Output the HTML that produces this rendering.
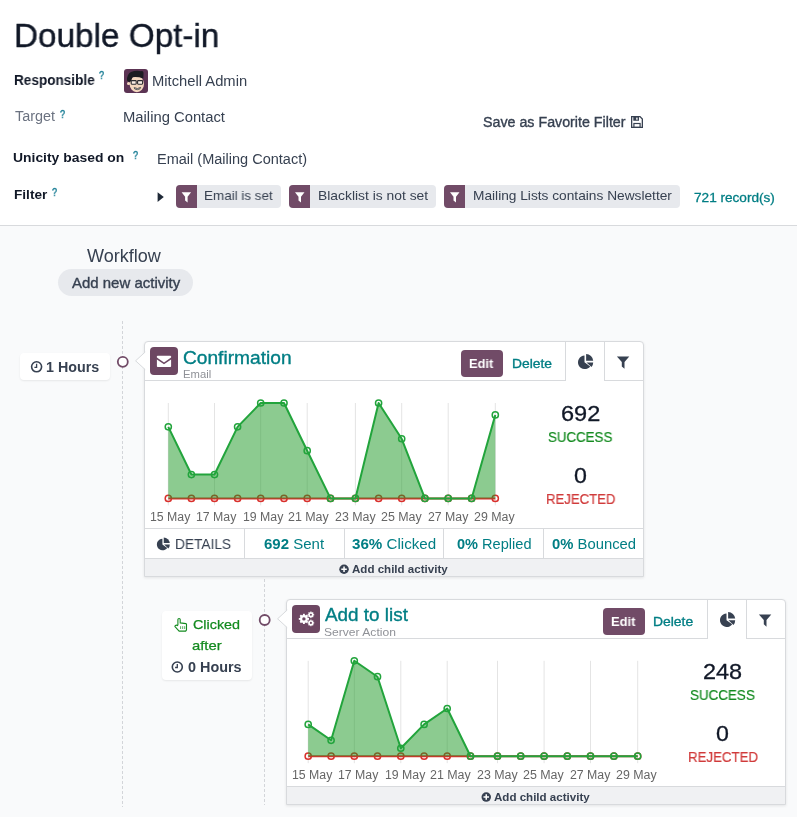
<!DOCTYPE html>
<html><head><meta charset="utf-8">
<style>
*{box-sizing:border-box;margin:0;padding:0}
html,body{width:797px;height:817px;overflow:hidden;background:#f9fafb;font-family:"Liberation Sans",sans-serif;color:#374151}
.b{position:absolute}
.t{position:absolute;white-space:nowrap;will-change:transform}
.t b{font-weight:bold}
#top{position:absolute;left:0;top:0;width:797px;height:226px;background:#fff;border-bottom:1px solid #d8dadd}
.tag{position:absolute;top:185px;height:23px;background:#e7e9ed;border-radius:4px;overflow:hidden}
.tag i{position:absolute;left:0;top:0;width:21px;height:23px;background:#714b67}
.card{position:absolute;background:#fff;border:1px solid #d8dadd;border-radius:4px 4px 0 0;box-shadow:0 1px 3px rgba(0,0,0,0.09)}
.ibox{position:absolute;width:28px;height:28px;border-radius:4px;background:#6d4762}
.btn{position:absolute;width:42px;height:27px;border-radius:4px;background:#714b67}
.tab{position:absolute;border-left:1px solid #d8dadd}
.foot{position:absolute;background:#f0f1f3;border-top:1px solid #d8dadd}
.tbox{position:absolute;background:#fff;border-radius:4px;box-shadow:0 1px 2px rgba(0,0,0,0.08)}
</style></head><body>
<div id="top"></div>
<!-- avatar -->
<svg class="b" style="left:124px;top:69px" width="24" height="24" viewBox="0 0 24 24">
  <rect x="0" y="0" width="24" height="24" rx="3" fill="#5c3454"/>
  <ellipse cx="12.8" cy="15" rx="7.2" ry="8.3" fill="#f4d8c0"/>
  <circle cx="4.6" cy="14.5" r="1.6" fill="#f4d8c0"/>
  <path d="M3 11.5 Q2.8 5 7 3 Q12 1 17 2.2 Q19.8 1.5 19.5 5 L19.3 9.5 Q14 7.6 8.5 8.2 L6.8 12.5 L5 13 Z" fill="#1c1c22"/>
  <rect x="7.2" y="11.6" width="5" height="3.6" rx="0.6" fill="#fff" fill-opacity="0.6" stroke="#2b2b30" stroke-width="1.1"/>
  <rect x="13.6" y="11.6" width="5" height="3.6" rx="0.6" fill="#fff" fill-opacity="0.6" stroke="#2b2b30" stroke-width="1.1"/>
  <path d="M10.2 18.6 Q13.4 20.6 16.6 18.4 L16 19.8 Q13.4 21.4 10.8 20 Z" fill="#fff" stroke="#333" stroke-width="0.8"/>
</svg>
<!-- floppy -->
<svg class="b" style="left:631px;top:116px" width="12" height="12" viewBox="0 0 12 12">
  <path d="M0.65 0.65 H9 L11.35 3 V11.35 H0.65Z" fill="none" stroke="#374151" stroke-width="1.3"/>
  <path d="M2.3 0.6 H8 V4.7 H2.3Z M5.2 1.5 V3.8 H6.6 V1.5Z" fill="#374151" fill-rule="evenodd"/>
  <rect x="2.9" y="7.5" width="6.2" height="3.9" fill="none" stroke="#374151" stroke-width="1.2"/>
</svg>
<!-- caret -->
<svg class="b" style="left:157px;top:191px" width="8" height="12" viewBox="0 0 8 12"><path d="M0.6 1.2 L6.8 6 L0.6 11Z" fill="#1f2937"/></svg>
<div class="tag" style="left:176px;width:105px"><i></i></div>
<div class="tag" style="left:289px;width:147px"><i></i></div>
<div class="tag" style="left:444px;width:236px"><i></i></div>
<svg class="b" style="left:0;top:0" width="797" height="230">
  <defs><path id="fun" d="M0 0 H9.5 L6 4.6 V10.2 L3.5 8.4 V4.6Z" fill="#fff"/></defs>
  <use href="#fun" x="181.6" y="192.2"/>
  <use href="#fun" x="295" y="192.2"/>
  <use href="#fun" x="450" y="192.2"/>
</svg>
<!-- workflow pill -->
<div class="b" style="left:58px;top:269px;width:135px;height:27px;border-radius:14px;background:#e7e9ed"></div>
<!-- dashed lines + circles -->
<svg class="b" style="left:0;top:0" width="797" height="817">
  <line x1="122.5" y1="321" x2="122.5" y2="807" stroke="#d3d5d9" stroke-width="1" stroke-dasharray="3 2"/>
  <line x1="264.5" y1="579" x2="264.5" y2="805" stroke="#d3d5d9" stroke-width="1" stroke-dasharray="3 2"/>
</svg>
<div class="tbox" style="left:20px;top:353px;width:90px;height:27px"></div>
<div class="tbox" style="left:162px;top:611px;width:90px;height:69px"></div>
<svg class="b" style="left:0;top:0" width="797" height="817">
  <circle cx="122.8" cy="361.8" r="5" fill="#fff" stroke="#714b67" stroke-width="1.8"/>
  <circle cx="264.7" cy="620.0" r="5" fill="#fff" stroke="#714b67" stroke-width="1.8"/>
</svg>
<!-- card 1 -->
<div class="card" style="left:144px;top:341px;width:500px;height:236px"></div>
<div class="card" style="left:286px;top:599px;width:500px;height:206px"></div>
<svg class="b" style="left:0;top:0" width="797" height="817">
  <!-- arrows -->
  <path d="M145.2 352 L135.6 360.8 L145.2 369.6" fill="#fff" stroke="#d8dadd" stroke-width="1"/>
  <path d="M287.2 610 L277.6 618.8 L287.2 627.6" fill="#fff" stroke="#d8dadd" stroke-width="1"/>
  <!-- header bottom lines -->
  <line x1="145" y1="380.5" x2="565.5" y2="380.5" stroke="#d8dadd" stroke-width="1"/>
  <line x1="604.5" y1="380.5" x2="643" y2="380.5" stroke="#d8dadd" stroke-width="1"/>
  <line x1="565.5" y1="341" x2="565.5" y2="381" stroke="#d8dadd" stroke-width="1"/>
  <line x1="604.5" y1="341" x2="604.5" y2="381" stroke="#d8dadd" stroke-width="1"/>
  <line x1="287" y1="638.5" x2="707.5" y2="638.5" stroke="#d8dadd" stroke-width="1"/>
  <line x1="746.5" y1="638.5" x2="785" y2="638.5" stroke="#d8dadd" stroke-width="1"/>
  <line x1="707.5" y1="599" x2="707.5" y2="639" stroke="#d8dadd" stroke-width="1"/>
  <line x1="746.5" y1="599" x2="746.5" y2="639" stroke="#d8dadd" stroke-width="1"/>
  <!-- stats row -->
  <line x1="145" y1="528.5" x2="643" y2="528.5" stroke="#d8dadd" stroke-width="1"/>
  <line x1="244.5" y1="528.5" x2="244.5" y2="558" stroke="#d8dadd" stroke-width="1"/>
  <line x1="344.5" y1="528.5" x2="344.5" y2="558" stroke="#d8dadd" stroke-width="1"/>
  <line x1="443.5" y1="528.5" x2="443.5" y2="558" stroke="#d8dadd" stroke-width="1"/>
  <line x1="543.5" y1="528.5" x2="543.5" y2="558" stroke="#d8dadd" stroke-width="1"/>
</svg>
<div class="foot" style="left:145px;top:558px;width:498px;height:18px;"></div>
<div class="foot" style="left:287px;top:786px;width:498px;height:18px;"></div>
<div class="ibox" style="left:150px;top:347px"></div>
<div class="ibox" style="left:292px;top:605px"></div>
<div class="btn" style="left:461px;top:350px"></div>
<div class="btn" style="left:603px;top:608px"></div>
<svg class="b" style="left:0;top:0" width="797" height="817">
  <defs>
    <g id="pie"><path d="M6.6 1.4 A6.8 6.8 0 1 0 12.3 12.3 L6.6 8.2Z" fill="#374151"/><path d="M8.2 0 A7.2 7.2 0 0 1 15.3 6.6 L8.2 6.6Z" fill="#374151"/><path d="M8.6 8.3 L15.3 8.3 A7 7 0 0 1 13.6 12.9Z" fill="#374151"/></g>
    <path id="funnel" d="M0 0 H12.4 L7.6 5.4 V12.2 L4.9 9.8 V5.4Z" fill="#374151"/>
    <g id="env"><path d="M0 0.8 Q0 0 0.8 0 H13.4 Q14.2 0 14.2 0.8 V1.6 L7.1 6.6 L0 1.6Z" fill="#fff"/><path d="M0 3.6 L7.1 8.4 L14.2 3.6 V10.5 Q14.2 11.3 13.4 11.3 H0.8 Q0 11.3 0 10.5Z" fill="#fff"/></g>
    <g id="gear"><circle r="3.9" fill="#fff"/><g fill="#fff"><rect x="-0.95" y="-5.1" width="1.9" height="10.2"/><rect x="-0.95" y="-5.1" width="1.9" height="10.2" transform="rotate(45)"/><rect x="-0.95" y="-5.1" width="1.9" height="10.2" transform="rotate(90)"/><rect x="-0.95" y="-5.1" width="1.9" height="10.2" transform="rotate(135)"/></g><circle r="1.7" fill="#6d4762"/></g>
    <g id="sgear"><circle r="2.5" fill="#fff"/><g fill="#fff"><rect x="-0.6" y="-3.3" width="1.2" height="6.6"/><rect x="-0.6" y="-3.3" width="1.2" height="6.6" transform="rotate(45)"/><rect x="-0.6" y="-3.3" width="1.2" height="6.6" transform="rotate(90)"/><rect x="-0.6" y="-3.3" width="1.2" height="6.6" transform="rotate(135)"/></g><circle r="1.05" fill="#6d4762"/></g>
    <g id="plus"><circle cx="4.75" cy="4.75" r="4.75" fill="#374151"/><path d="M4 2 H5.5 V4 H7.5 V5.5 H5.5 V7.5 H4 V5.5 H2 V4 H4Z" fill="#fff"/></g>
    <g id="clock"><circle cx="5.8" cy="5.8" r="5" fill="none" stroke="#374151" stroke-width="1.6"/><path d="M5.8 2.8 V6.3 H3.6" fill="none" stroke="#374151" stroke-width="1.3"/></g>
  </defs>
  <use href="#pie" x="577.9" y="354.1"/>
  <use href="#pie" x="719.9" y="612"/>
  <use href="#funnel" x="616.9" y="356.6"/>
  <use href="#funnel" x="758.9" y="614.5"/>
  <use href="#env" x="156.9" y="355.8"/>
  <g transform="translate(303.9,618.9)"><use href="#gear"/></g>
  <g transform="translate(310.9,614.8)"><use href="#sgear"/></g>
  <g transform="translate(310.9,622.9)"><use href="#sgear"/></g>
  <use href="#plus" x="339.3" y="564.5"/>
  <use href="#plus" x="481.5" y="792.3"/>
  <use href="#clock" x="30.8" y="361"/>
  <use href="#clock" x="171.5" y="661.2"/>
  <g transform="translate(156.8,537.5) scale(0.85)"><use href="#pie"/></g>
  <!-- hand -->
  <path d="M177.9 625.2 V619.6 Q177.9 618.5 179.05 618.5 Q180.2 618.5 180.2 619.6 V622.9 L185.9 623.6 Q186.5 623.7 186.5 624.3 V629.9 L185.7 631.1 H179.1 L175 626.7 Q174.6 625.9 175.4 625.4 Q176.6 624.7 177.9 625.8" fill="none" stroke="#138a1f" stroke-width="1.1" stroke-linejoin="round"/>
  <path d="M180.6 626.2 V629 M182.7 626.2 V629 M184.7 626.2 V629" stroke="#138a1f" stroke-width="0.7"/>
<line x1="168.30" y1="403.00" x2="168.30" y2="505.40" stroke="#e4e4e4" stroke-width="1"/>
<line x1="214.50" y1="403.00" x2="214.50" y2="505.40" stroke="#e4e4e4" stroke-width="1"/>
<line x1="260.70" y1="403.00" x2="260.70" y2="505.40" stroke="#e4e4e4" stroke-width="1"/>
<line x1="307.20" y1="403.00" x2="307.20" y2="505.40" stroke="#e4e4e4" stroke-width="1"/>
<line x1="355.40" y1="403.00" x2="355.40" y2="505.40" stroke="#e4e4e4" stroke-width="1"/>
<line x1="401.70" y1="403.00" x2="401.70" y2="505.40" stroke="#e4e4e4" stroke-width="1"/>
<line x1="448.20" y1="403.00" x2="448.20" y2="505.40" stroke="#e4e4e4" stroke-width="1"/>
<line x1="495.30" y1="403.00" x2="495.30" y2="505.40" stroke="#e4e4e4" stroke-width="1"/>
<line x1="168.30" y1="498.40" x2="495.30" y2="498.40" stroke="#d9302c" stroke-width="2"/>
<circle cx="168.30" cy="498.40" r="3.1" fill="none" stroke="#d9302c" stroke-width="1.5"/>
<circle cx="191.40" cy="498.40" r="3.1" fill="none" stroke="#d9302c" stroke-width="1.5"/>
<circle cx="214.50" cy="498.40" r="3.1" fill="none" stroke="#d9302c" stroke-width="1.5"/>
<circle cx="237.60" cy="498.40" r="3.1" fill="none" stroke="#d9302c" stroke-width="1.5"/>
<circle cx="260.70" cy="498.40" r="3.1" fill="none" stroke="#d9302c" stroke-width="1.5"/>
<circle cx="284.00" cy="498.40" r="3.1" fill="none" stroke="#d9302c" stroke-width="1.5"/>
<circle cx="307.20" cy="498.40" r="3.1" fill="none" stroke="#d9302c" stroke-width="1.5"/>
<circle cx="330.50" cy="498.40" r="3.1" fill="none" stroke="#d9302c" stroke-width="1.5"/>
<circle cx="355.40" cy="498.40" r="3.1" fill="none" stroke="#d9302c" stroke-width="1.5"/>
<circle cx="378.60" cy="498.40" r="3.1" fill="none" stroke="#d9302c" stroke-width="1.5"/>
<circle cx="401.70" cy="498.40" r="3.1" fill="none" stroke="#d9302c" stroke-width="1.5"/>
<circle cx="424.90" cy="498.40" r="3.1" fill="none" stroke="#d9302c" stroke-width="1.5"/>
<circle cx="448.20" cy="498.40" r="3.1" fill="none" stroke="#d9302c" stroke-width="1.5"/>
<circle cx="471.60" cy="498.40" r="3.1" fill="none" stroke="#d9302c" stroke-width="1.5"/>
<circle cx="495.30" cy="498.40" r="3.1" fill="none" stroke="#d9302c" stroke-width="1.5"/>
<polygon points="168.30,498.40 168.30,426.85 191.40,474.55 214.50,474.55 237.60,426.85 260.70,403.00 284.00,403.00 307.20,450.70 330.50,498.40 355.40,498.40 378.60,403.00 401.70,438.77 424.90,498.40 448.20,498.40 471.60,498.40 495.30,414.93 495.30,498.40" fill="rgba(25,151,33,0.5)"/>
<polyline points="168.30,426.85 191.40,474.55 214.50,474.55 237.60,426.85 260.70,403.00 284.00,403.00 307.20,450.70 330.50,498.40 355.40,498.40 378.60,403.00 401.70,438.77 424.90,498.40 448.20,498.40 471.60,498.40 495.30,414.93" fill="none" stroke="#22a43c" stroke-width="2" stroke-linejoin="round"/>
<circle cx="168.30" cy="426.85" r="3.1" fill="none" stroke="#22a43c" stroke-width="1.5"/>
<circle cx="191.40" cy="474.55" r="3.1" fill="none" stroke="#22a43c" stroke-width="1.5"/>
<circle cx="214.50" cy="474.55" r="3.1" fill="none" stroke="#22a43c" stroke-width="1.5"/>
<circle cx="237.60" cy="426.85" r="3.1" fill="none" stroke="#22a43c" stroke-width="1.5"/>
<circle cx="260.70" cy="403.00" r="3.1" fill="none" stroke="#22a43c" stroke-width="1.5"/>
<circle cx="284.00" cy="403.00" r="3.1" fill="none" stroke="#22a43c" stroke-width="1.5"/>
<circle cx="307.20" cy="450.70" r="3.1" fill="none" stroke="#22a43c" stroke-width="1.5"/>
<circle cx="330.50" cy="498.40" r="3.1" fill="none" stroke="#22a43c" stroke-width="1.5"/>
<circle cx="355.40" cy="498.40" r="3.1" fill="none" stroke="#22a43c" stroke-width="1.5"/>
<circle cx="378.60" cy="403.00" r="3.1" fill="none" stroke="#22a43c" stroke-width="1.5"/>
<circle cx="401.70" cy="438.77" r="3.1" fill="none" stroke="#22a43c" stroke-width="1.5"/>
<circle cx="424.90" cy="498.40" r="3.1" fill="none" stroke="#22a43c" stroke-width="1.5"/>
<circle cx="448.20" cy="498.40" r="3.1" fill="none" stroke="#22a43c" stroke-width="1.5"/>
<circle cx="471.60" cy="498.40" r="3.1" fill="none" stroke="#22a43c" stroke-width="1.5"/>
<circle cx="495.30" cy="414.93" r="3.1" fill="none" stroke="#22a43c" stroke-width="1.5"/><line x1="308.20" y1="660.80" x2="308.20" y2="763.20" stroke="#e4e4e4" stroke-width="1"/>
<line x1="354.30" y1="660.80" x2="354.30" y2="763.20" stroke="#e4e4e4" stroke-width="1"/>
<line x1="400.80" y1="660.80" x2="400.80" y2="763.20" stroke="#e4e4e4" stroke-width="1"/>
<line x1="447.20" y1="660.80" x2="447.20" y2="763.20" stroke="#e4e4e4" stroke-width="1"/>
<line x1="497.50" y1="660.80" x2="497.50" y2="763.20" stroke="#e4e4e4" stroke-width="1"/>
<line x1="544.10" y1="660.80" x2="544.10" y2="763.20" stroke="#e4e4e4" stroke-width="1"/>
<line x1="590.50" y1="660.80" x2="590.50" y2="763.20" stroke="#e4e4e4" stroke-width="1"/>
<line x1="637.70" y1="660.80" x2="637.70" y2="763.20" stroke="#e4e4e4" stroke-width="1"/>
<line x1="308.20" y1="756.20" x2="637.70" y2="756.20" stroke="#d9302c" stroke-width="2"/>
<circle cx="308.20" cy="756.20" r="3.1" fill="none" stroke="#d9302c" stroke-width="1.5"/>
<circle cx="331.10" cy="756.20" r="3.1" fill="none" stroke="#d9302c" stroke-width="1.5"/>
<circle cx="354.30" cy="756.20" r="3.1" fill="none" stroke="#d9302c" stroke-width="1.5"/>
<circle cx="377.50" cy="756.20" r="3.1" fill="none" stroke="#d9302c" stroke-width="1.5"/>
<circle cx="400.80" cy="756.20" r="3.1" fill="none" stroke="#d9302c" stroke-width="1.5"/>
<circle cx="424.10" cy="756.20" r="3.1" fill="none" stroke="#d9302c" stroke-width="1.5"/>
<circle cx="447.20" cy="756.20" r="3.1" fill="none" stroke="#d9302c" stroke-width="1.5"/>
<circle cx="470.50" cy="756.20" r="3.1" fill="none" stroke="#d9302c" stroke-width="1.5"/>
<circle cx="497.50" cy="756.20" r="3.1" fill="none" stroke="#d9302c" stroke-width="1.5"/>
<circle cx="520.70" cy="756.20" r="3.1" fill="none" stroke="#d9302c" stroke-width="1.5"/>
<circle cx="544.10" cy="756.20" r="3.1" fill="none" stroke="#d9302c" stroke-width="1.5"/>
<circle cx="567.30" cy="756.20" r="3.1" fill="none" stroke="#d9302c" stroke-width="1.5"/>
<circle cx="590.50" cy="756.20" r="3.1" fill="none" stroke="#d9302c" stroke-width="1.5"/>
<circle cx="613.90" cy="756.20" r="3.1" fill="none" stroke="#d9302c" stroke-width="1.5"/>
<circle cx="637.70" cy="756.20" r="3.1" fill="none" stroke="#d9302c" stroke-width="1.5"/>
<polygon points="308.20,756.20 308.20,724.40 331.10,740.30 354.30,660.80 377.50,676.70 400.80,748.25 424.10,724.40 447.20,708.50 470.50,756.20 497.50,756.20 520.70,756.20 544.10,756.20 567.30,756.20 590.50,756.20 613.90,756.20 637.70,756.20 637.70,756.20" fill="rgba(25,151,33,0.5)"/>
<polyline points="308.20,724.40 331.10,740.30 354.30,660.80 377.50,676.70 400.80,748.25 424.10,724.40 447.20,708.50 470.50,756.20 497.50,756.20 520.70,756.20 544.10,756.20 567.30,756.20 590.50,756.20 613.90,756.20 637.70,756.20" fill="none" stroke="#22a43c" stroke-width="2" stroke-linejoin="round"/>
<circle cx="308.20" cy="724.40" r="3.1" fill="none" stroke="#22a43c" stroke-width="1.5"/>
<circle cx="331.10" cy="740.30" r="3.1" fill="none" stroke="#22a43c" stroke-width="1.5"/>
<circle cx="354.30" cy="660.80" r="3.1" fill="none" stroke="#22a43c" stroke-width="1.5"/>
<circle cx="377.50" cy="676.70" r="3.1" fill="none" stroke="#22a43c" stroke-width="1.5"/>
<circle cx="400.80" cy="748.25" r="3.1" fill="none" stroke="#22a43c" stroke-width="1.5"/>
<circle cx="424.10" cy="724.40" r="3.1" fill="none" stroke="#22a43c" stroke-width="1.5"/>
<circle cx="447.20" cy="708.50" r="3.1" fill="none" stroke="#22a43c" stroke-width="1.5"/>
<circle cx="470.50" cy="756.20" r="3.1" fill="none" stroke="#22a43c" stroke-width="1.5"/>
<circle cx="497.50" cy="756.20" r="3.1" fill="none" stroke="#22a43c" stroke-width="1.5"/>
<circle cx="520.70" cy="756.20" r="3.1" fill="none" stroke="#22a43c" stroke-width="1.5"/>
<circle cx="544.10" cy="756.20" r="3.1" fill="none" stroke="#22a43c" stroke-width="1.5"/>
<circle cx="567.30" cy="756.20" r="3.1" fill="none" stroke="#22a43c" stroke-width="1.5"/>
<circle cx="590.50" cy="756.20" r="3.1" fill="none" stroke="#22a43c" stroke-width="1.5"/>
<circle cx="613.90" cy="756.20" r="3.1" fill="none" stroke="#22a43c" stroke-width="1.5"/>
<circle cx="637.70" cy="756.20" r="3.1" fill="none" stroke="#22a43c" stroke-width="1.5"/>
</svg>
<div class="t" style="left:14.04px;top:18.22px;font-size:34.0px;line-height:34.0px;font-weight:normal;color:#111827;transform:scaleX(0.9791);transform-origin:0 0;-webkit-text-stroke:0.4px #111827;">Double Opt-in</div>
<div class="t" style="left:13.53px;top:73.15px;font-size:14.0px;line-height:14.0px;font-weight:bold;color:#111827;transform:scaleX(0.9695);transform-origin:0 0;">Responsible</div>
<div class="t" style="left:151.65px;top:73.85px;font-size:14.0px;line-height:14.0px;font-weight:normal;color:#374151;transform:scaleX(1.0539);transform-origin:0 0;">Mitchell Admin</div>
<div class="t" style="left:14.50px;top:109.35px;font-size:14.0px;line-height:14.0px;font-weight:normal;color:#6b7280;transform:scaleX(1.0282);transform-origin:0 0;">Target</div>
<div class="t" style="left:123.34px;top:109.95px;font-size:14.0px;line-height:14.0px;font-weight:normal;color:#374151;transform:scaleX(1.0568);transform-origin:0 0;">Mailing Contact</div>
<div class="t" style="left:483.40px;top:116.22px;font-size:13.8px;line-height:13.8px;font-weight:normal;color:#374151;transform:scaleX(1.0326);transform-origin:0 0;-webkit-text-stroke:0.35px #374151;">Save as Favorite Filter</div>
<div class="t" style="left:13.48px;top:151.19px;font-size:13.6px;line-height:13.6px;font-weight:bold;color:#111827;transform:scaleX(1.0224);transform-origin:0 0;">Unicity based on</div>
<div class="t" style="left:157.06px;top:152.35px;font-size:14.0px;line-height:14.0px;font-weight:normal;color:#374151;transform:scaleX(1.0371);transform-origin:0 0;">Email (Mailing Contact)</div>
<div class="t" style="left:13.50px;top:188.29px;font-size:13.6px;line-height:13.6px;font-weight:bold;color:#111827;transform:scaleX(1.0031);transform-origin:0 0;">Filter</div>
<div class="t" style="left:204.21px;top:188.79px;font-size:13.6px;line-height:13.6px;font-weight:normal;color:#374151;transform:scaleX(0.9884);transform-origin:0 0;">Email is set</div>
<div class="t" style="left:317.78px;top:188.79px;font-size:13.6px;line-height:13.6px;font-weight:normal;color:#374151;transform:scaleX(1.0196);transform-origin:0 0;">Blacklist is not set</div>
<div class="t" style="left:472.79px;top:188.79px;font-size:13.6px;line-height:13.6px;font-weight:normal;color:#374151;transform:scaleX(1.0087);transform-origin:0 0;">Mailing Lists contains Newsletter</div>
<div class="t" style="left:693.70px;top:191.53px;font-size:12.6px;line-height:12.6px;font-weight:normal;color:#017e84;transform:scaleX(1.0800);transform-origin:0 0;-webkit-text-stroke:0.3px #017e84;">721 record(s)</div>
<div class="t" style="left:99.20px;top:70.19px;font-size:11.0px;line-height:11.0px;font-weight:normal;color:#1c7f96;transform:scaleX(0.8333);transform-origin:0 0;-webkit-text-stroke:0.45px #1c7f96;">?</div>
<div class="t" style="left:59.80px;top:108.69px;font-size:11.0px;line-height:11.0px;font-weight:normal;color:#1c7f96;transform:scaleX(0.8333);transform-origin:0 0;-webkit-text-stroke:0.45px #1c7f96;">?</div>
<div class="t" style="left:132.70px;top:149.69px;font-size:11.0px;line-height:11.0px;font-weight:normal;color:#1c7f96;transform:scaleX(0.8333);transform-origin:0 0;-webkit-text-stroke:0.45px #1c7f96;">?</div>
<div class="t" style="left:52.00px;top:187.29px;font-size:11.0px;line-height:11.0px;font-weight:normal;color:#1c7f96;transform:scaleX(0.8333);transform-origin:0 0;-webkit-text-stroke:0.45px #1c7f96;">?</div>
<div class="t" style="left:86.50px;top:248.13px;font-size:17.8px;line-height:17.8px;font-weight:normal;color:#374151;transform:scaleX(1.0151);transform-origin:0 0;">Workflow</div>
<div class="t" style="left:71.50px;top:275.93px;font-size:14.5px;line-height:14.5px;font-weight:normal;color:#374151;transform:scaleX(1.0324);transform-origin:0 0;-webkit-text-stroke:0.35px #374151;">Add new activity</div>
<div class="t" style="left:46.08px;top:360.35px;font-size:14.0px;line-height:14.0px;font-weight:bold;color:#374151;transform:scaleX(1.0196);transform-origin:0 0;">1 Hours</div>
<div class="t" style="left:182.52px;top:349.83px;font-size:17.8px;line-height:17.8px;font-weight:normal;color:#017e84;transform:scaleX(1.0768);transform-origin:0 0;-webkit-text-stroke:0.35px #017e84;">Confirmation</div>
<div class="t" style="left:182.53px;top:368.81px;font-size:10.5px;line-height:10.5px;font-weight:normal;color:#8f9197;transform:scaleX(1.0720);transform-origin:0 0;">Email</div>
<div class="t" style="left:469.32px;top:357.03px;font-size:13.2px;line-height:13.2px;font-weight:bold;color:#ffffff;transform:scaleX(0.9750);transform-origin:0 0;">Edit</div>
<div class="t" style="left:511.75px;top:357.03px;font-size:13.2px;line-height:13.2px;font-weight:normal;color:#017e84;transform:scaleX(1.0486);transform-origin:0 0;-webkit-text-stroke:0.35px #017e84;">Delete</div>
<div class="t" style="left:560.63px;top:403.18px;font-size:22.0px;line-height:22.0px;font-weight:normal;color:#111827;transform:scaleX(1.0714);transform-origin:0 0;-webkit-text-stroke:0.3px #111827;">692</div>
<div class="t" style="left:548.04px;top:430.73px;font-size:13.9px;line-height:13.9px;font-weight:normal;color:#138a1f;transform:scaleX(0.9576);transform-origin:0 0;-webkit-text-stroke:0.2px #138a1f;">SUCCESS</div>
<div class="t" style="left:573.85px;top:465.18px;font-size:22.0px;line-height:22.0px;font-weight:normal;color:#111827;transform:scaleX(1.0545);transform-origin:0 0;-webkit-text-stroke:0.3px #111827;">0</div>
<div class="t" style="left:545.75px;top:493.03px;font-size:13.9px;line-height:13.9px;font-weight:normal;color:#d03a3a;transform:scaleX(0.9472);transform-origin:0 0;-webkit-text-stroke:0.2px #d03a3a;">REJECTED</div>
<div class="t" style="left:174.53px;top:536.68px;font-size:14.2px;line-height:14.2px;font-weight:normal;color:#374151;transform:scaleX(0.9667);transform-origin:0 0;">DETAILS</div>
<div class="t" style="left:264.00px;top:536.68px;font-size:14.2px;line-height:14.2px;font-weight:normal;color:#017e84;transform:scaleX(1.0579);transform-origin:0 0;"><b>692</b> Sent</div>
<div class="t" style="left:352.40px;top:536.68px;font-size:14.2px;line-height:14.2px;font-weight:normal;color:#017e84;transform:scaleX(1.0679);transform-origin:0 0;"><b>36%</b> Clicked</div>
<div class="t" style="left:456.70px;top:536.68px;font-size:14.2px;line-height:14.2px;font-weight:normal;color:#017e84;transform:scaleX(1.0264);transform-origin:0 0;"><b>0%</b> Replied</div>
<div class="t" style="left:552.00px;top:536.68px;font-size:14.2px;line-height:14.2px;font-weight:normal;color:#017e84;transform:scaleX(1.0450);transform-origin:0 0;"><b>0%</b> Bounced</div>
<div class="t" style="left:352.30px;top:563.63px;font-size:10.6px;line-height:10.6px;font-weight:bold;color:#374151;transform:scaleX(1.0909);transform-origin:0 0;">Add child activity</div>
<div class="t" style="left:192.60px;top:618.09px;font-size:13.6px;line-height:13.6px;font-weight:normal;color:#138a1f;transform:scaleX(1.0568);transform-origin:0 0;-webkit-text-stroke:0.25px #138a1f;">Clicked</div>
<div class="t" style="left:192.30px;top:639.19px;font-size:13.6px;line-height:13.6px;font-weight:normal;color:#138a1f;transform:scaleX(1.0889);transform-origin:0 0;-webkit-text-stroke:0.25px #138a1f;">after</div>
<div class="t" style="left:188.30px;top:659.95px;font-size:14.0px;line-height:14.0px;font-weight:bold;color:#374151;transform:scaleX(1.0288);transform-origin:0 0;">0 Hours</div>
<div class="t" style="left:325.20px;top:607.23px;font-size:17.8px;line-height:17.8px;font-weight:normal;color:#017e84;transform:scaleX(1.0615);transform-origin:0 0;-webkit-text-stroke:0.35px #017e84;">Add to list</div>
<div class="t" style="left:324.35px;top:626.91px;font-size:10.5px;line-height:10.5px;font-weight:normal;color:#8f9197;transform:scaleX(1.1508);transform-origin:0 0;">Server Action</div>
<div class="t" style="left:611.02px;top:614.73px;font-size:13.2px;line-height:13.2px;font-weight:bold;color:#ffffff;transform:scaleX(0.9792);transform-origin:0 0;">Edit</div>
<div class="t" style="left:653.35px;top:614.73px;font-size:13.2px;line-height:13.2px;font-weight:normal;color:#017e84;transform:scaleX(1.0541);transform-origin:0 0;-webkit-text-stroke:0.35px #017e84;">Delete</div>
<div class="t" style="left:702.93px;top:660.78px;font-size:22.0px;line-height:22.0px;font-weight:normal;color:#111827;transform:scaleX(1.0657);transform-origin:0 0;-webkit-text-stroke:0.3px #111827;">248</div>
<div class="t" style="left:689.83px;top:688.53px;font-size:13.9px;line-height:13.9px;font-weight:normal;color:#138a1f;transform:scaleX(0.9652);transform-origin:0 0;-webkit-text-stroke:0.2px #138a1f;">SUCCESS</div>
<div class="t" style="left:715.85px;top:722.78px;font-size:22.0px;line-height:22.0px;font-weight:normal;color:#111827;transform:scaleX(1.0545);transform-origin:0 0;-webkit-text-stroke:0.3px #111827;">0</div>
<div class="t" style="left:688.04px;top:751.23px;font-size:13.9px;line-height:13.9px;font-weight:normal;color:#d03a3a;transform:scaleX(0.9556);transform-origin:0 0;-webkit-text-stroke:0.2px #d03a3a;">REJECTED</div>
<div class="t" style="left:494.30px;top:791.63px;font-size:10.6px;line-height:10.6px;font-weight:bold;color:#374151;transform:scaleX(1.0909);transform-origin:0 0;">Add child activity</div>
<div class="t" style="left:150.01px;top:510.59px;font-size:12.3px;line-height:12.3px;font-weight:normal;color:#666666;transform:scaleX(0.9897);transform-origin:0 0;">15 May</div>
<div class="t" style="left:196.41px;top:510.59px;font-size:12.3px;line-height:12.3px;font-weight:normal;color:#666666;transform:scaleX(0.9923);transform-origin:0 0;">17 May</div>
<div class="t" style="left:242.91px;top:510.59px;font-size:12.3px;line-height:12.3px;font-weight:normal;color:#666666;transform:scaleX(0.9897);transform-origin:0 0;">19 May</div>
<div class="t" style="left:288.19px;top:510.59px;font-size:12.3px;line-height:12.3px;font-weight:normal;color:#666666;transform:scaleX(1.0103);transform-origin:0 0;">21 May</div>
<div class="t" style="left:334.99px;top:510.59px;font-size:12.3px;line-height:12.3px;font-weight:normal;color:#666666;transform:scaleX(1.0077);transform-origin:0 0;">23 May</div>
<div class="t" style="left:381.39px;top:510.59px;font-size:12.3px;line-height:12.3px;font-weight:normal;color:#666666;transform:scaleX(1.0103);transform-origin:0 0;">25 May</div>
<div class="t" style="left:427.90px;top:510.59px;font-size:12.3px;line-height:12.3px;font-weight:normal;color:#666666;">27 May</div>
<div class="t" style="left:474.39px;top:510.59px;font-size:12.3px;line-height:12.3px;font-weight:normal;color:#666666;transform:scaleX(1.0077);transform-origin:0 0;">29 May</div>
<div class="t" style="left:292.01px;top:768.59px;font-size:12.3px;line-height:12.3px;font-weight:normal;color:#666666;transform:scaleX(0.9897);transform-origin:0 0;">15 May</div>
<div class="t" style="left:338.41px;top:768.59px;font-size:12.3px;line-height:12.3px;font-weight:normal;color:#666666;transform:scaleX(0.9923);transform-origin:0 0;">17 May</div>
<div class="t" style="left:384.91px;top:768.59px;font-size:12.3px;line-height:12.3px;font-weight:normal;color:#666666;transform:scaleX(0.9897);transform-origin:0 0;">19 May</div>
<div class="t" style="left:430.19px;top:768.59px;font-size:12.3px;line-height:12.3px;font-weight:normal;color:#666666;transform:scaleX(1.0103);transform-origin:0 0;">21 May</div>
<div class="t" style="left:476.99px;top:768.59px;font-size:12.3px;line-height:12.3px;font-weight:normal;color:#666666;transform:scaleX(1.0077);transform-origin:0 0;">23 May</div>
<div class="t" style="left:523.39px;top:768.59px;font-size:12.3px;line-height:12.3px;font-weight:normal;color:#666666;transform:scaleX(1.0103);transform-origin:0 0;">25 May</div>
<div class="t" style="left:569.90px;top:768.59px;font-size:12.3px;line-height:12.3px;font-weight:normal;color:#666666;">27 May</div>
<div class="t" style="left:616.39px;top:768.59px;font-size:12.3px;line-height:12.3px;font-weight:normal;color:#666666;transform:scaleX(1.0077);transform-origin:0 0;">29 May</div>
</body></html>
